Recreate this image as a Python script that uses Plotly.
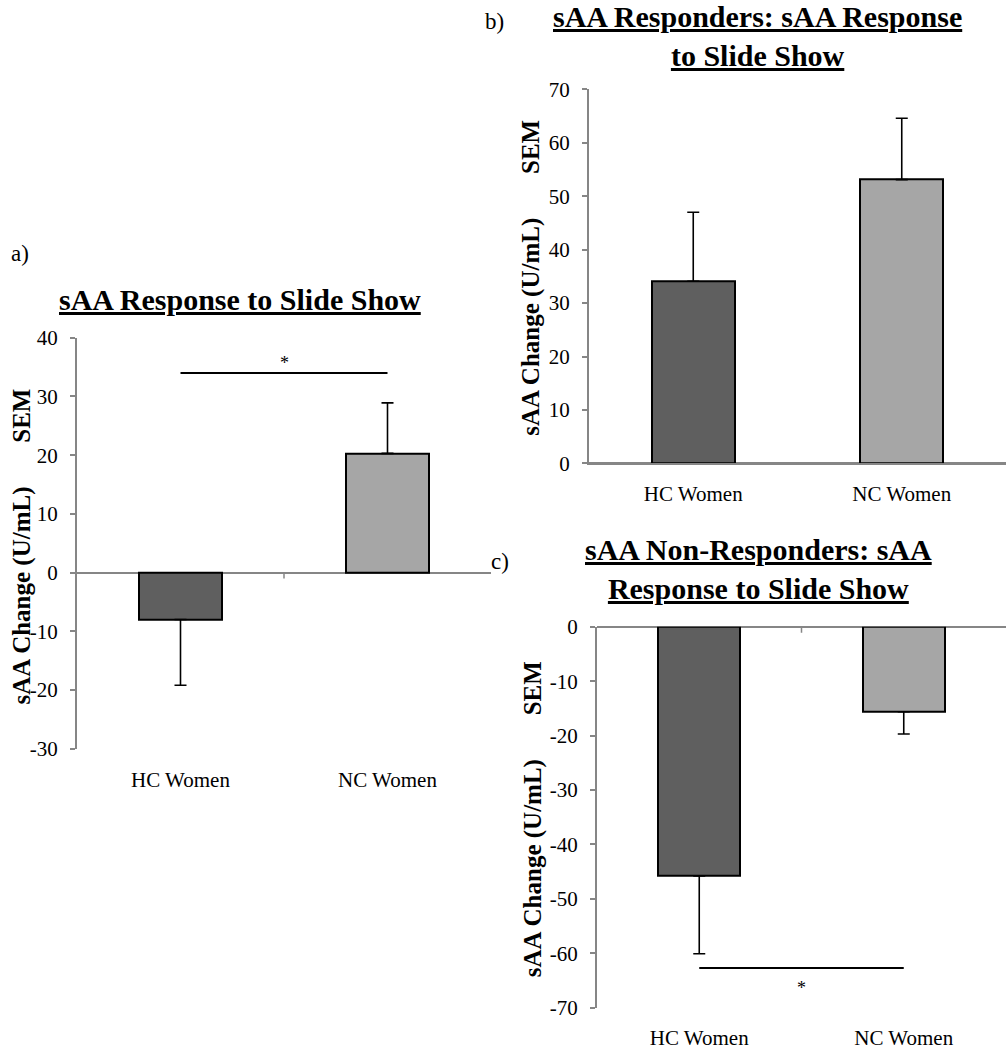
import plotly.graph_objects as go

# ---------------- data ----------------
categories = ["HC Women", "NC Women"]
bar_colors = ["#5f5f5f", "#a6a6a6"]

a_means = [-8.0, 20.3]
a_sem = [11.2, 8.6]
a_sig_y = 34.0

b_means = [34.1, 53.1]
b_sem = [12.9, 11.5]

c_means = [-45.8, -15.6]
c_sem = [14.3, 4.1]
c_sig_y = -62.7

a_ticks = [-30, -20, -10, 0, 10, 20, 30, 40]
b_ticks = [0, 10, 20, 30, 40, 50, 60, 70]
c_ticks = [-70, -60, -50, -40, -30, -20, -10, 0]

W, H = 1006, 1050
SERIF = "Liberation Serif"
AXC = "#868686"

fig = go.Figure()
xpos = [0, 1]


def add_bars(means, sems, xa, ya):
    up = [s if m > 0 else 0 for m, s in zip(means, sems)]
    dn = [s if m < 0 else 0 for m, s in zip(means, sems)]
    fig.add_trace(go.Bar(
        x=xpos, y=means, width=0.4,
        marker=dict(color=bar_colors, line=dict(color="black", width=2)),
        error_y=dict(type="data", symmetric=False, array=up, arrayminus=dn,
                     color="black", thickness=1.6, width=6),
        xaxis=xa, yaxis=ya, showlegend=False, hoverinfo="skip"))


add_bars(a_means, a_sem, "x", "y")
add_bars(b_means, b_sem, "x2", "y2")
add_bars(c_means, c_sem, "x3", "y3")

# significance bars with asterisk
for sig, xa, ya, yanc, shift in [(a_sig_y, "x", "y", "bottom", -2),
                                 (c_sig_y, "x3", "y3", "top", -8)]:
    fig.add_trace(go.Scatter(x=xpos, y=[sig, sig], mode="lines",
                             line=dict(color="black", width=2),
                             xaxis=xa, yaxis=ya, showlegend=False, hoverinfo="skip"))
    fig.add_annotation(x=0.5, y=sig, xref=xa, yref=ya, text="*", showarrow=False,
                       xanchor="center", yanchor=yanc, yshift=shift,
                       font=dict(family=SERIF, size=18, color="black"))


def px_x(p):
    return p / W


def px_y(p):
    return 1 - p / H


def tick_text(vals):
    return [str(v) for v in vals]  # plain hyphen minus like the original


xcommon = dict(range=[-0.5, 1.5], tickvals=xpos, ticktext=categories, ticks="",
               showgrid=False, zeroline=False, fixedrange=True,
               tickfont=dict(family=SERIF, size=21, color="black"))
ycommon = dict(showgrid=False, showline=True, linecolor=AXC, linewidth=2,
               ticks="outside", ticklen=5, tickwidth=1.5, tickcolor=AXC,
               zeroline=True, zerolinecolor=AXC, zerolinewidth=2,
               tickfont=dict(family=SERIF, size=21, color="black"),
               ticklabelstandoff=8, fixedrange=True)

fig.update_layout(
    width=W, height=H, margin=dict(l=0, r=0, t=0, b=0),
    paper_bgcolor="white", plot_bgcolor="white", bargap=0,
    xaxis=dict(domain=[px_x(77), px_x(491)], anchor="y", showline=False,
               ticklabelstandoff=16, **xcommon),
    yaxis=dict(domain=[px_y(762), px_y(337)], anchor="x", range=[-30, 40],
               tickvals=a_ticks, ticktext=tick_text(a_ticks), **ycommon),
    xaxis2=dict(domain=[px_x(589), px_x(1006)], anchor="y2", showline=True,
                linecolor=AXC, linewidth=2, ticklabelstandoff=10, **xcommon),
    yaxis2=dict(domain=[px_y(467), px_y(80)], anchor="x2", range=[0, 70],
                tickvals=b_ticks, ticktext=tick_text(b_ticks), **ycommon),
    xaxis3=dict(domain=[px_x(597), px_x(1006)], anchor="y3", showline=False,
                ticklabelstandoff=15, **xcommon),
    yaxis3=dict(domain=[px_y(1030), px_y(636)], anchor="x3", range=[-70, 0],
                tickvals=c_ticks, ticktext=tick_text(c_ticks), **ycommon),
)

# small category-boundary tick on each horizontal axis
for xa, ya in [("x", "y"), ("x2", "y2"), ("x3", "y3")]:
    fig.add_shape(type="line", xref=xa, yref=ya, x0=0.5, x1=0.5,
                  ysizemode="pixel", yanchor=0, y0=0, y1=-6,
                  line=dict(color=AXC, width=1.5))

UL = '<span style="text-decoration:underline;text-decoration-thickness:3px">'
titles = [
    ("sAA Response to Slide Show", 240, 297),
    ("sAA Responders: sAA Response<br>to Slide Show", 757, 25),
    ("sAA Non-Responders: sAA<br>Response to Slide Show", 758, 576),
]
for txt, cx, cy in titles:
    lines = txt.split("<br>")
    t = "<br>".join(UL + "<b>" + ln + "</b></span>" for ln in lines)
    fig.add_annotation(text=t, xref="paper", yref="paper", x=px_x(cx), y=px_y(cy),
                       xanchor="center", yanchor="middle", showarrow=False,
                       font=dict(family=SERIF, size=30, color="black"))

for lab, lx, ly in [("a)", 20, 250), ("b)", 494, 10), ("c)", 500, 568)]:
    fig.add_annotation(text=lab, xref="paper", yref="paper", x=px_x(lx), y=px_y(ly),
                       xanchor="center", yanchor="middle", showarrow=False,
                       font=dict(family=SERIF, size=23, color="black"))

ytitle = "<b>sAA Change (U/mL)" + "\u00a0" * 7 + "SEM</b>"
for tx, ty in [(22, 553), (531, 275), (533, 835)]:
    fig.add_annotation(text=ytitle, xref="paper", yref="paper", x=px_x(tx), y=px_y(ty),
                       xanchor="center", yanchor="middle", showarrow=False, textangle=-90,
                       font=dict(family=SERIF, size=25, color="black"))

fig.write_html("out.html", config={"displayModeBar": False},
               post_script="document.body.style.margin='0px';")
